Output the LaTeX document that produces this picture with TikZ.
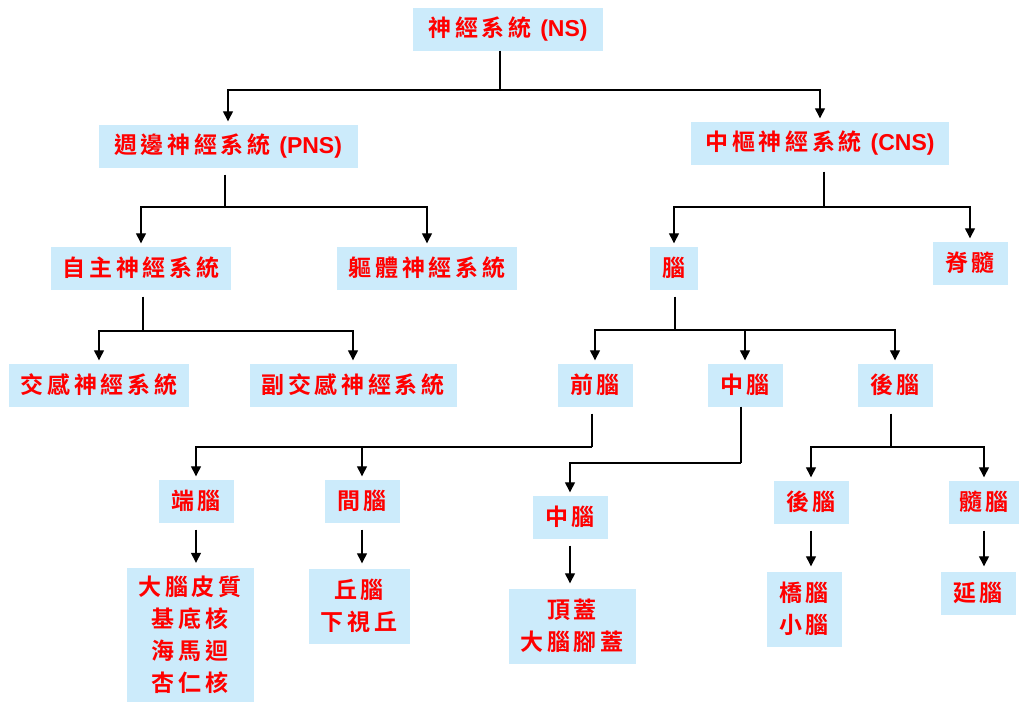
\documentclass[tikz,border=0pt]{standalone}
\usepackage{fontspec}
\setmainfont{Liberation Sans}
\newfontfamily\cjk{Noto Sans CJK TC Bold}[LetterSpace=16]
\usetikzlibrary{arrows.meta}
\definecolor{boxblue}{HTML}{CCEBFB}

\begin{document}
\begin{tikzpicture}
[x=1pt,y=-1pt,%
  every node/.style={fill=boxblue,text=red,inner sep=0pt,minimum height=43pt,%
    font=\cjk\fontsize{23}{32}\selectfont,align=center},%
  link/.style={line width=1.3pt,shorten <=7pt},%
  arrow/.style={line width=1.3pt,-{Triangle[width=10pt,length=10pt]},shorten >=3pt},%
  drop/.style={arrow,shorten <=7pt,shorten >=5pt}]
\useasboundingbox (0,0) rectangle (1021,702);
\node[minimum width=190pt] (NS) at (508,29) {神經系統 {\rmfamily\bfseries (NS)}};
\node[minimum width=259pt] (PNS) at (228,146) {週邊神經系統 {\rmfamily\bfseries (PNS)}};
\node[minimum width=258pt] (CNS) at (820,143) {中樞神經系統 {\rmfamily\bfseries (CNS)}};
\node[minimum width=180pt] (ANS) at (141,268) {自主神經系統};
\node[minimum width=180pt] (SNS) at (427,268) {軀體神經系統};
\node[minimum width=48pt] (brain) at (674,268) {腦};
\node[minimum width=75pt] (spine) at (970,263) {脊髓};
\node[minimum width=180pt] (symp) at (99,385) {交感神經系統};
\node[minimum width=207pt] (para) at (353,385) {副交感神經系統};
\node[minimum width=75pt] (fore) at (595,385) {前腦};
\node[minimum width=75pt] (mid) at (745,385) {中腦};
\node[minimum width=75pt] (hind) at (895,385) {後腦};
\node[minimum width=75pt] (tel) at (196,501) {端腦};
\node[minimum width=75pt] (dien) at (362,501) {間腦};
\node[minimum width=75pt] (mes) at (570,517) {中腦};
\node[minimum width=75pt] (met) at (811,502) {後腦};
\node[minimum width=70pt] (myel) at (984,502) {髓腦};
\node[minimum width=127pt,minimum height=134pt] (cortex) at (190,635)
  {大腦皮質\\基底核\\海馬迴\\杏仁核};
\node[minimum width=101pt,minimum height=75pt] (thal) at (359,606) {丘腦\\下視丘};
\node[minimum width=127pt,minimum height=75pt] (tect) at (572,626) {頂蓋\\大腦腳蓋};
\node[minimum width=75pt,minimum height=75pt] (pons) at (804,609) {橋腦\\小腦};
\node[minimum width=75pt] (medulla) at (978,593) {延腦};

\coordinate (ns-j) at (500,90);
\coordinate (pns-j) at (225,207);
\coordinate (cns-j) at (824,207);
\coordinate (ans-j) at (143,331);
\coordinate (brain-j) at (675,330);
\coordinate (fore-j) at (592,447);
\coordinate (mid-j) at (741,463);
\coordinate (hind-j) at (891,447);

\draw[link,shorten <=0pt] (NS.south -| ns-j) -- (ns-j);
\draw[arrow] (ns-j) -| (PNS.north);
\draw[arrow] (ns-j) -| (CNS.north);
\draw[link] (PNS.south -| pns-j) -- (pns-j);
\draw[arrow] (pns-j) -| (ANS.north);
\draw[arrow] (pns-j) -| (SNS.north);
\draw[link] (CNS.south -| cns-j) -- (cns-j);
\draw[arrow] (cns-j) -| (brain.north);
\draw[arrow] (cns-j) -| (spine.north);
\draw[link] (ANS.south -| ans-j) -- (ans-j);
\draw[arrow] (ans-j) -| (symp.north);
\draw[arrow] (ans-j) -| (para.north);
\draw[link] (brain.south -| brain-j) -- (brain-j);
\draw[arrow] (brain-j) -| (fore.north);
\draw[arrow] (brain-j) -| (mid.north);
\draw[arrow] (brain-j) -| (hind.north);
\draw[link] (fore.south -| fore-j) -- (fore-j);
\draw[arrow] (fore-j) -| (tel.north);
\draw[arrow] (fore-j) -| (dien.north);
\draw[link,shorten <=0pt] (mid.south -| mid-j) -- (mid-j);
\draw[arrow] (mid-j) -| (mes.north);
\draw[link] (hind.south -| hind-j) -- (hind-j);
\draw[arrow] (hind-j) -| (met.north);
\draw[arrow] (hind-j) -| (myel.north);
\draw[drop] (tel.south) -- (tel.south |- cortex.north);
\draw[drop] (dien.south) -- (dien.south |- thal.north);
\draw[drop] (mes.south) -- (mes.south |- tect.north);
\draw[drop] (met.south) -- (met.south |- pons.north);
\draw[drop] (myel.south) -- (myel.south |- medulla.north);
\end{tikzpicture}
\end{document}
